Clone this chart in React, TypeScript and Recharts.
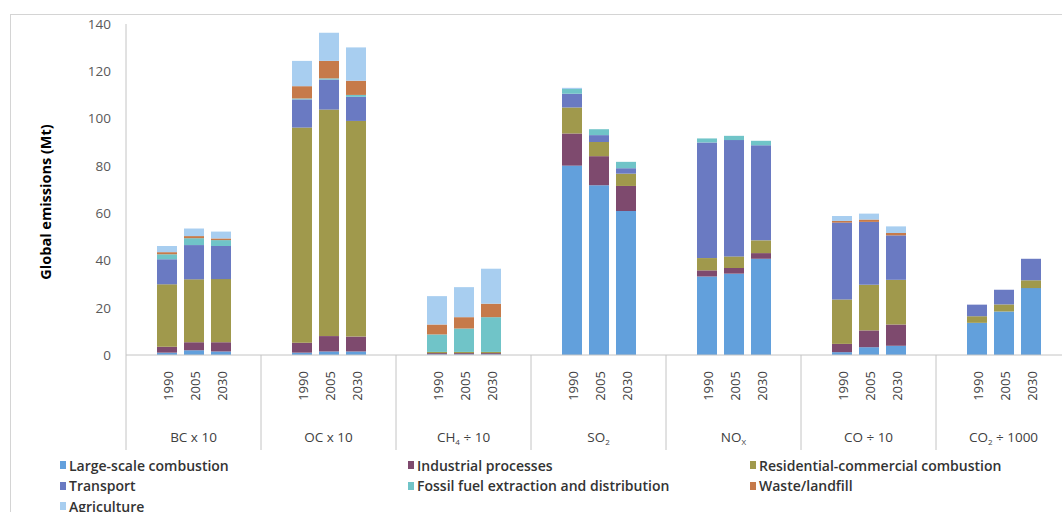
import React from 'react';
import { BarChart, Bar, XAxis, YAxis, Label } from 'recharts';

// stacked emission sources, one value per gas/year (7 gases x 3 years)
const years = ['1990', '2005', '2030'];
const gases = ['BC', 'OC', 'CH4', 'SO2', 'NOx', 'CO', 'CO2'];
const gasLabels = [
  { main: 'BC x 10', sub: '', rest: '' },
  { main: 'OC x 10', sub: '', rest: '' },
  { main: 'CH', sub: '4', rest: ' ÷ 10' },
  { main: 'SO', sub: '2', rest: '' },
  { main: 'NO', sub: 'X', rest: '' },
  { main: 'CO ÷ 10', sub: '', rest: '' },
  { main: 'CO', sub: '2', rest: ' ÷ 1000' },
];

const largeScale = [1.0, 2.0, 1.5, 1.0, 1.5, 1.5, 0.3, 0.3, 0.3, 80.1, 71.8, 60.9, 33.2, 34.4, 40.7, 1.2, 3.3, 3.9, 13.6, 18.4, 28.3];
const industrial = [2.5, 3.4, 3.9, 4.2, 6.5, 6.3, 0.5, 0.5, 0.5, 13.6, 12.3, 10.6, 2.6, 2.4, 2.4, 3.5, 7.1, 9.0, 0, 0, 0];
const residential = [26.4, 26.6, 26.7, 91.0, 95.8, 91.2, 0.5, 0.5, 0.5, 11.0, 6.0, 5.2, 5.2, 4.9, 5.4, 18.8, 19.3, 18.9, 2.8, 3.0, 3.3];
const transport = [10.6, 14.5, 14.0, 11.9, 12.7, 10.2, 0, 0, 0, 5.8, 2.9, 2.3, 48.9, 49.2, 40.2, 32.5, 26.6, 18.8, 4.9, 6.2, 9.1];
const fossil = [2.1, 2.9, 2.5, 0.4, 0.5, 0.8, 7.4, 9.9, 14.7, 2.0, 2.5, 2.7, 1.7, 1.8, 1.9, 0, 0, 0, 0, 0, 0];
const waste = [0.9, 0.9, 0.7, 5.2, 7.4, 6.0, 4.2, 4.8, 5.7, 0, 0, 0, 0, 0, 0, 0.7, 1.0, 1.0, 0, 0, 0];
const agriculture = [2.6, 3.2, 2.9, 10.7, 11.9, 14.1, 12.0, 12.7, 14.8, 0.5, 0, 0, 0, 0, 0, 2.1, 2.5, 2.8, 0, 0, 0];

const yTicks = [0, 20, 40, 60, 80, 100, 120, 140];

const series = [
  { key: 'largeScale', name: 'Large-scale combustion', color: '#62a0dc', values: largeScale },
  { key: 'industrial', name: 'Industrial processes', color: '#7e4a6e', values: industrial },
  { key: 'residential', name: 'Residential-commercial combustion', color: '#a0994c', values: residential },
  { key: 'transport', name: 'Transport', color: '#6a7ac2', values: transport },
  { key: 'fossil', name: 'Fossil fuel extraction and distribution', color: '#70c4c8', values: fossil },
  { key: 'waste', name: 'Waste/landfill', color: '#c67a4a', values: waste },
  { key: 'agriculture', name: 'Agriculture', color: '#a8cef0', values: agriculture },
];

// each gas gets 5 slots: empty, 3 years, empty
const SLOTS = 5;
const data: any[] = [];
gases.forEach((gas, g) => {
  for (let s = 0; s < SLOTS; s++) {
    const row: any = { id: `${gas}-${s}`, group: g, slot: s, year: '' };
    if (s >= 1 && s <= 3) {
      const i = g * 3 + (s - 1);
      row.year = years[s - 1];
      series.forEach((sr) => {
        if (sr.values[i]) row[sr.key] = sr.values[i];
      });
    }
    data.push(row);
  }
});

const FONT = '"Open Sans", "DejaVu Sans", sans-serif';
const BAND = 27;

const SlotTick = (props: any) => {
  const { x, y, index } = props;
  const row = data[index];
  if (!row) return null;
  const lbl = gasLabels[row.group];
  return (
    <g>
      {row.slot === 0 && (
        <line x1={x - BAND / 2} x2={x - BAND / 2} y1={y} y2={y + 95} stroke="#c4c4c4" strokeWidth={1} />
      )}
      {row.year && (
        <text
          transform={`translate(${x + 1},${y + 31}) rotate(-90)`}
          textAnchor="middle"
          dominantBaseline="central"
          fontSize={13}
          fill="#404040"
          fontFamily={FONT}
        >
          {row.year}
        </text>
      )}
      {row.slot === 2 && (
        <text x={x} y={y + 87} textAnchor="middle" fontSize={13.5} fill="#404040" fontFamily={FONT}>
          {lbl.main}
          {lbl.sub && (
            <tspan fontSize={8} dy={3}>
              {lbl.sub}
            </tspan>
          )}
          {lbl.rest && <tspan dy={lbl.sub ? -3 : 0}>{lbl.rest}</tspan>}
        </text>
      )}
    </g>
  );
};

const YTitle = (props: any) => {
  const vb = props.viewBox || { x: 0, y: 0 };
  const cx = vb.x + 19;
  const cy = vb.y + 178;
  return (
    <text
      transform={`translate(${cx},${cy}) rotate(-90)`}
      textAnchor="middle"
      dominantBaseline="central"
      fontSize={14.5}
      fontWeight={700}
      fill="#000"
      fontFamily={FONT}
    >
      Global emissions (Mt)
    </text>
  );
};

export default function App() {
  return (
    <div
      style={{
        position: 'fixed',
        left: 0,
        top: 0,
        width: 1062,
        height: 512,
        overflow: 'hidden',
        background: '#fff',
        fontFamily: FONT,
      }}
    >
      <div
        style={{
          position: 'absolute',
          left: 10,
          top: 14,
          width: 1100,
          height: 600,
          border: '1px solid #d4d4d4',
        }}
      />
      <div style={{ position: 'absolute', left: 0, top: 0 }}>
        <BarChart
          width={1071}
          height={455}
          data={data}
          margin={{ top: 24, right: 0, bottom: 0, left: 26 }}
          barSize={20}
        >
          <XAxis
            dataKey="id"
            interval={0}
            height={100}
            tickLine={false}
            tickSize={0}
            tickMargin={0}
            axisLine={{ stroke: '#c4c4c4' }}
            tick={<SlotTick />}
          />
          <YAxis
            width={100}
            domain={[0, 140]}
            ticks={yTicks}
            tickLine={false}
            tickSize={0}
            tickMargin={15}
            axisLine={{ stroke: '#c4c4c4' }}
            tick={{ fontSize: 13.5, fill: '#595959', fontFamily: FONT }}
          >
            <Label content={<YTitle />} />
          </YAxis>
          {series.map((s) => (
            <Bar key={s.key} dataKey={s.key} name={s.name} stackId="a" fill={s.color} isAnimationActive={false} />
          ))}
        </BarChart>
      </div>
      <div
        style={{
          position: 'absolute',
          left: 60,
          top: 455,
          display: 'grid',
          gridTemplateColumns: '348px 342px 300px',
          gridAutoRows: '20.5px',
          fontSize: 14,
          fontWeight: 600,
          color: '#333',
        }}
      >
        {series.map((s) => (
          <div key={s.key} style={{ display: 'flex', alignItems: 'center', whiteSpace: 'nowrap' }}>
            <span style={{ display: 'inline-block', width: 6, height: 8, background: s.color, marginRight: 3 }} />
            {s.name}
          </div>
        ))}
      </div>
    </div>
  );
}
